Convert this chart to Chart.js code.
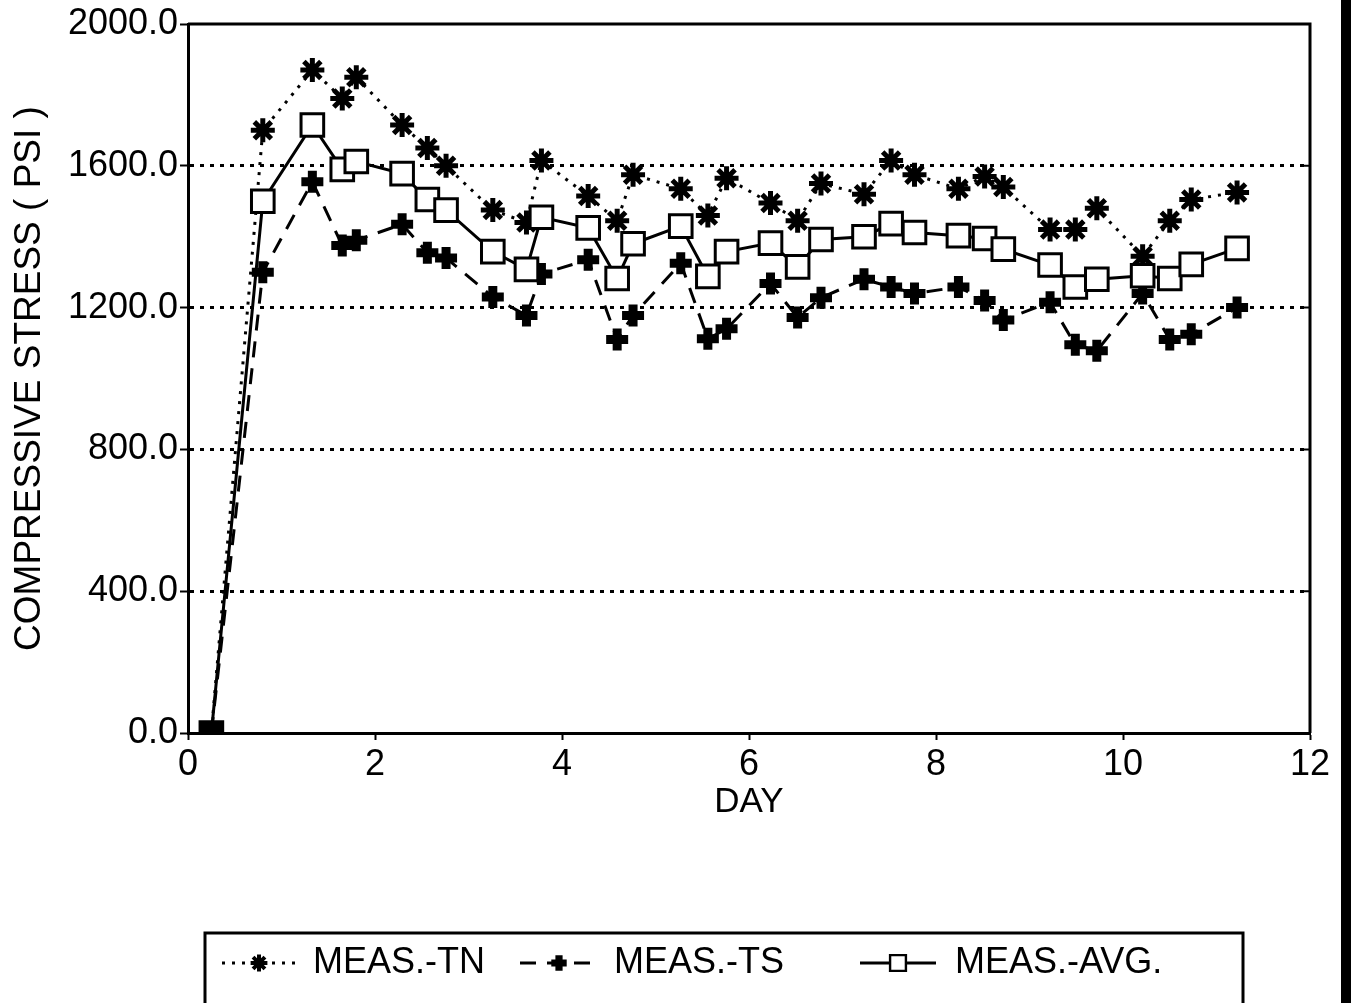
<!DOCTYPE html>
<html>
<head>
<meta charset="utf-8">
<script src="https://cdn.jsdelivr.net/npm/chart.js@4/dist/chart.umd.min.js"></script>
<style>
  html, body { margin: 0; padding: 0; background: #fff; }
  #wrap { width: 1352px; height: 1003px; position: relative; }
</style>
</head>
<body>
<div id="wrap"><canvas id="chart-output" width="1352" height="1003"></canvas></div>
<script>
// test days (same for all three series)
var days = [0.25, 0.8, 1.33, 1.65, 1.8, 2.29, 2.56, 2.76, 3.26, 3.62, 3.78, 4.28, 4.59, 4.76, 5.27, 5.56, 5.76,
  6.23, 6.52, 6.77, 7.23, 7.52, 7.77, 8.24, 8.52, 8.72, 9.22, 9.49, 9.72, 10.21, 10.5, 10.73, 11.22];

// compressive stress, psi
var measTN = [0, 1700, 1870, 1790, 1850, 1715, 1650, 1600, 1475, 1440, 1615, 1515, 1445, 1575, 1535, 1460, 1565,
  1495, 1445, 1550, 1520, 1615, 1575, 1535, 1570, 1540, 1420, 1420, 1480, 1345, 1445, 1505, 1525];
var measTS = [0, 1300, 1555, 1375, 1390, 1435, 1355, 1340, 1230, 1178, 1295, 1335, 1110, 1178, 1325, 1112, 1140,
  1268, 1172, 1228, 1280, 1258, 1240, 1258, 1220, 1165, 1215, 1095, 1078, 1240, 1110, 1125, 1200];
var measAVG = [0, 1500, 1715, 1590, 1612, 1578, 1505, 1475, 1358, 1308, 1455, 1425, 1282, 1380, 1430, 1288, 1358,
  1382, 1315, 1392, 1400, 1437, 1412, 1403, 1395, 1365, 1320, 1258, 1280, 1290, 1282, 1322, 1367];

var yTicks = [0, 400, 800, 1200, 1600, 2000];
var xTicks = [0, 2, 4, 6, 8, 10, 12];
var seriesNames = ["MEAS.-TN", "MEAS.-TS", "MEAS.-AVG."];

var FONT = "'Liberation Sans', Arial, sans-serif";

function pts(vals) {
  return vals.map(function (v, i) { return { x: days[i], y: v }; });
}

// white boxes, first one filled where all three sit on zero
var avgFill = measAVG.map(function (v, i) { return i === 0 ? "#000" : "#fff"; });

var data = {
  datasets: [
    {
      label: seriesNames[0],
      data: pts(measTN),
      borderColor: "#000",
      borderWidth: 3,
      borderDash: [3, 7],
      pointStyle: "star",
      pointRadius: 12,
      pointBorderWidth: 5,
      pointBorderColor: "#000",
      pointBackgroundColor: "#000",
      order: 2
    },
    {
      label: seriesNames[1],
      data: pts(measTS),
      borderColor: "#000",
      borderWidth: 3,
      borderDash: [16, 11],
      pointStyle: "cross",
      pointRadius: 11,
      pointBorderWidth: 9,
      pointBorderColor: "#000",
      pointBackgroundColor: "#000",
      order: 1
    },
    {
      label: seriesNames[2],
      data: pts(measAVG),
      borderColor: "#000",
      borderWidth: 3,
      pointStyle: "rect",
      pointRadius: 16,
      pointBorderWidth: 3,
      pointBorderColor: "#000",
      pointBackgroundColor: avgFill,
      order: 0
    }
  ]
};

// outer frame of the plot, tick marks crossing the y axis, page edge on the right
var framePlugin = {
  id: "frame",
  afterDatasetsDraw: function (chart) {
    var a = chart.chartArea, ctx = chart.ctx, ys = chart.scales.y;
    ctx.save();
    ctx.strokeStyle = "#000";
    ctx.lineWidth = 3;
    ctx.beginPath();
    ctx.moveTo(a.left, a.top);
    ctx.lineTo(a.right, a.top);
    ctx.lineTo(a.right, a.bottom);
    ctx.stroke();
    ctx.lineWidth = 2;
    yTicks.forEach(function (v) {
      var py = ys.getPixelForValue(v);
      ctx.beginPath();
      ctx.moveTo(a.left, py);
      ctx.lineTo(a.left + 6, py);
      ctx.moveTo(a.right - 6, py);
      ctx.lineTo(a.right, py);
      ctx.stroke();
    });
    ctx.fillStyle = "#000";
    ctx.fillRect(1341, 0, 10, chart.height);
    ctx.restore();
  }
};

// boxed legend at the bottom
var legendPlugin = {
  id: "boxLegend",
  afterDraw: function (chart) {
    var ctx = chart.ctx;
    var box = { x: 205, y: 933, w: 1038, h: 75 };
    var cy = 963;
    var items = [
      { ds: 0, x0: 222, x1: 296, tx: 313 },
      { ds: 1, x0: 520, x1: 598, tx: 614 },
      { ds: 2, x0: 860, x1: 936, tx: 955 }
    ];
    ctx.save();
    ctx.strokeStyle = "#000";
    ctx.lineWidth = 3;
    ctx.strokeRect(box.x, box.y, box.w, box.h);
    items.forEach(function (it) {
      var ds = chart.data.datasets[it.ds];
      ctx.save();
      ctx.lineWidth = ds.borderWidth;
      ctx.setLineDash(ds.borderDash || []);
      ctx.beginPath();
      ctx.moveTo(it.x0, cy);
      ctx.lineTo(it.x1, cy);
      ctx.stroke();
      ctx.restore();
      ctx.fillStyle = "#fff";
      ctx.strokeStyle = "#000";
      ctx.lineWidth = ds.pointBorderWidth * 0.8;
      if (it.ds !== 2) ctx.fillStyle = "#000";
      Chart.helpers.drawPoint(ctx, {
        pointStyle: ds.pointStyle,
        radius: ds.pointRadius * 0.7,
        borderWidth: ds.pointBorderWidth * 0.8
      }, (it.x0 + it.x1) / 2, cy);
      ctx.fillStyle = "#000";
      ctx.font = "36px " + FONT;
      ctx.textBaseline = "middle";
      ctx.fillText(ds.label, it.tx, cy);
    });
    ctx.restore();
  }
};

var options = {
  responsive: false,
  animation: false,
  layout: { padding: { top: 24, right: 42, bottom: 170, left: 0 } },
  plugins: {
    legend: { display: false },
    tooltip: { enabled: false }
  },
  scales: {
    x: {
      type: "linear",
      min: 0,
      max: 12,
      afterBuildTicks: function (s) { s.ticks = xTicks.map(function (v) { return { value: v }; }); },
      afterFit: function (s) { s.height = 100; },
      ticks: {
        color: "#000",
        font: { family: FONT, size: 36 },
        padding: 3,
        maxRotation: 0
      },
      grid: {
        drawOnChartArea: false,
        drawTicks: true,
        tickLength: 7,
        tickColor: "#000",
        tickWidth: 2
      },
      border: { color: "#000", width: 3 },
      title: {
        display: true,
        text: "DAY",
        color: "#000",
        font: { family: FONT, size: 35 },
        padding: { top: 0, bottom: 10 }
      }
    },
    y: {
      min: 0,
      max: 2000,
      afterBuildTicks: function (s) { s.ticks = yTicks.map(function (v) { return { value: v }; }); },
      afterFit: function (s) { s.width = 188; },
      ticks: {
        color: "#000",
        font: { family: FONT, size: 36 },
        padding: 2,
        callback: function (v) { return v.toFixed(1); }
      },
      grid: {
        color: function (c) { return (c.tick.value === 0 || c.tick.value === 2000) ? "rgba(0,0,0,0)" : "#000"; },
        lineWidth: 3,
        tickLength: 8,
        tickColor: "#000",
        tickWidth: 2
      },
      border: { color: "#000", width: 3, dash: [4, 6] },
      title: {
        display: true,
        text: "COMPRESSIVE STRESS ( PSI )",
        color: "#000",
        font: { family: FONT, size: 37 },
        padding: { top: 8, bottom: 0 }
      }
    }
  }
};

var ctx = document.getElementById("chart-output");
var myChart = new Chart(ctx, {
  type: "line",
  data: data,
  options: options,
  plugins: [framePlugin, legendPlugin]
});
</script>
</body>
</html>
